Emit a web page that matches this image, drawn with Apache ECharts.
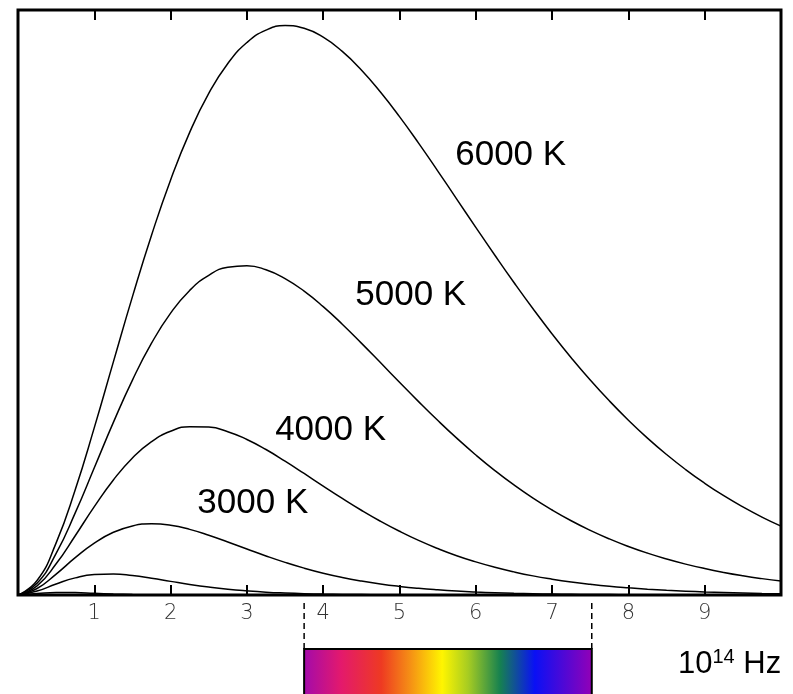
<!DOCTYPE html>
<html>
<head>
<meta charset="utf-8">
<script src="https://cdn.jsdelivr.net/npm/echarts@6/dist/echarts.min.js"></script>
<style>
  html, body { margin: 0; padding: 0; background: #fff; }
  #main { width: 793px; height: 694px; }
</style>
</head>
<body>
<div id="main"></div>
<script>
  // frequency in 10^14 Hz
  let nu = [0, 0.25, 0.5, 0.75, 1, 1.25, 1.5, 1.75, 2, 2.25, 2.5, 2.75, 3, 3.25, 3.5, 3.75, 4, 4.25, 4.5, 4.75,
            5, 5.25, 5.5, 5.75, 6, 6.25, 6.5, 6.75, 7, 7.25, 7.5, 7.75, 8, 8.25, 8.5, 8.75, 9, 9.25, 9.5, 9.75, 10];
  // spectral radiance, arbitrary units
  let t6000 = [0, 2.47, 8.91, 17.99, 28.61, 39.85, 51.00, 61.50, 70.95, 79.09, 85.74, 90.86, 94.44, 96.56, 97.33, 96.87, 95.35, 92.92, 89.75, 85.98,
               81.77, 77.24, 72.51, 67.68, 62.84, 58.07, 53.41, 48.92, 44.63, 40.57, 36.75, 33.19, 29.88, 26.82, 24.01, 21.44, 19.10, 16.97, 15.05, 13.32, 11.77];
  let t5000 = [0, 2.02, 7.11, 14.03, 21.75, 29.51, 36.74, 43.04, 48.18, 52.06, 54.65, 56.03, 56.30, 55.60, 54.09, 51.94, 49.29, 46.29, 43.06, 39.73,
               36.37, 33.06, 29.86, 26.81, 23.94, 21.27, 18.81, 16.56, 14.53, 12.69, 11.05, 9.59, 8.30, 7.16, 6.16, 5.28, 4.52, 3.86, 3.29, 2.80, 2.38];
  let t4000 = [0, 1.57, 5.33, 10.13, 15.11, 19.67, 23.43, 26.22, 27.98, 28.77, 28.70, 27.92, 26.59, 24.87, 22.88, 20.77, 18.62, 16.51, 14.49, 12.61,
               10.89, 9.33, 7.95, 6.72, 5.66, 4.74, 3.95, 3.27, 2.71, 2.23, 1.83, 1.49, 1.22, 0.99, 0.80, 0.65, 0.52, 0.42, 0.34, 0.27, 0.22];
  let t3000 = [0, 1.11, 3.58, 6.38, 8.87, 10.72, 11.81, 12.17, 11.92, 11.22, 10.22, 9.06, 7.86, 6.68, 5.58, 4.59, 3.73, 3.00, 2.39, 1.88,
               1.47, 1.14, 0.88, 0.67, 0.51, 0.39, 0.29, 0.22, 0.16, 0.12, 0.09, 0.07, 0.05, 0.04, 0.03, 0.02, 0.01, 0.01, 0.01, 0.01, 0];
  let t2000 = [0, 0.67, 1.89, 2.93, 3.50, 3.59, 3.32, 2.86, 2.33, 1.81, 1.36, 0.99, 0.71, 0.49, 0.34, 0.23, 0.15, 0.10, 0.07, 0.04,
               0.03, 0.02, 0.01, 0.01, 0, 0, 0, 0, 0, 0, 0, 0, 0, 0, 0, 0, 0, 0, 0, 0, 0];
  let t1000 = [0, 0.24, 0.44, 0.42, 0.29, 0.17, 0.09, 0.04, 0.02, 0.01, 0, 0, 0, 0, 0, 0, 0, 0, 0, 0,
               0, 0, 0, 0, 0, 0, 0, 0, 0, 0, 0, 0, 0, 0, 0, 0, 0, 0, 0, 0, 0];
  let curveNames = ['6000 K', '5000 K', '4000 K', '3000 K', '2000 K', '1000 K'];
  let tickLabels = ['1', '2', '3', '4', '5', '6', '7', '8', '9'];
  // visible band, 10^14 Hz
  let visibleBand = [3.75, 7.52];

  let curves = [t6000, t5000, t4000, t3000, t2000, t1000];
  // where the temperature labels sit (data coords)
  let labelAt = [[5.73, 75.2], [4.42, 51.3], [3.37, 28.2], [2.35, 15.6]];

  let spectrum = new echarts.graphic.LinearGradient(0, 0, 1, 0, [
    { offset: 0.00, color: '#a20aac' },
    { offset: 0.13, color: '#e3196d' },
    { offset: 0.27, color: '#ee3a22' },
    { offset: 0.37, color: '#f59015' },
    { offset: 0.48, color: '#fff500' },
    { offset: 0.57, color: '#a6cc22' },
    { offset: 0.68, color: '#168150' },
    { offset: 0.80, color: '#0a10f5' },
    { offset: 1.00, color: '#9400b6' }
  ]);

  let series = curves.map(function (vals, i) {
    let s = {
      name: curveNames[i],
      type: 'line',
      xAxisIndex: 0,
      yAxisIndex: 0,
      smooth: true,
      symbol: 'none',
      silent: true,
      lineStyle: { color: '#000', width: 1.5 },
      data: nu.map(function (x, j) { return [x, vals[j]]; })
    };
    if (i < labelAt.length) {
      s.markPoint = {
        symbol: 'circle',
        symbolSize: 0,
        silent: true,
        label: {
          show: true,
          position: 'right',
          distance: 0,
          formatter: curveNames[i],
          color: '#000',
          fontSize: 35,
          fontFamily: 'Liberation Sans, Arial, sans-serif'
        },
        data: [{ coord: labelAt[i] }]
      };
    }
    return s;
  });

  // spectrum bar below the axis
  series.push({
    type: 'custom',
    xAxisIndex: 2,
    yAxisIndex: 1,
    silent: true,
    renderItem: function (params, api) {
      let p0 = api.coord([api.value(0), 0.47]);
      let p1 = api.coord([api.value(1), -0.1]);
      return {
        type: 'rect',
        shape: { x: p0[0], y: p0[1], width: p1[0] - p0[0], height: p1[1] - p0[1] },
        style: { fill: spectrum, stroke: '#000', lineWidth: 2 }
      };
    },
    data: [[visibleBand[0], visibleBand[1]]]
  });
  // dashed guides from axis to bar
  visibleBand.forEach(function (b) {
    series.push({
      type: 'line',
      xAxisIndex: 2,
      yAxisIndex: 1,
      symbol: 'none',
      silent: true,
      lineStyle: { color: '#000', width: 1.5, type: [6, 4] },
      data: [[b, 0.47], [b, 0.97]]
    });
  });

  let chart = echarts.init(document.getElementById('main'));
  chart.setOption({
    animation: false,
    backgroundColor: '#fff',
    grid: [
      { left: 18, right: 12, top: 10, bottom: 99, show: true, borderColor: '#000', borderWidth: 3 },
      { left: 18, right: 12, top: 598, bottom: 0 }
    ],
    xAxis: [
      {
        type: 'value', gridIndex: 0, min: 0, max: 10, interval: 1,
        axisLine: { show: false },
        splitLine: { show: false },
        axisTick: { inside: true, length: 10, lineStyle: { color: '#000', width: 2 } },
        axisLabel: {
          margin: 8,
          color: '#333',
          fontSize: 21,
          fontWeight: 200,
          fontFamily: 'DejaVu Sans',
          formatter: function (v) { return tickLabels[v - 1] || ''; }
        }
      },
      {
        type: 'value', gridIndex: 0, position: 'top', min: 0, max: 10, interval: 1,
        axisLine: { show: false },
        splitLine: { show: false },
        axisTick: { inside: true, length: 10, lineStyle: { color: '#000', width: 2 } },
        axisLabel: { show: false }
      },
      { type: 'value', gridIndex: 1, min: 0, max: 10, show: false }
    ],
    yAxis: [
      { type: 'value', gridIndex: 0, min: 0, max: 100, show: false },
      { type: 'value', gridIndex: 1, min: 0, max: 1, show: false }
    ],
    graphic: [
      {
        type: 'text',
        left: 678,
        top: 647,
        style: {
          text: '{b|10}{s|14}{b| Hz}',
          fill: '#000',
          rich: {
            b: { fontSize: 31, fontFamily: 'Liberation Sans, Arial, sans-serif', lineHeight: 35 },
            s: { fontSize: 20, fontFamily: 'Liberation Sans, Arial, sans-serif', lineHeight: 35, verticalAlign: 'top' }
          }
        }
      }
    ],
    series: series
  });
</script>
</body>
</html>
